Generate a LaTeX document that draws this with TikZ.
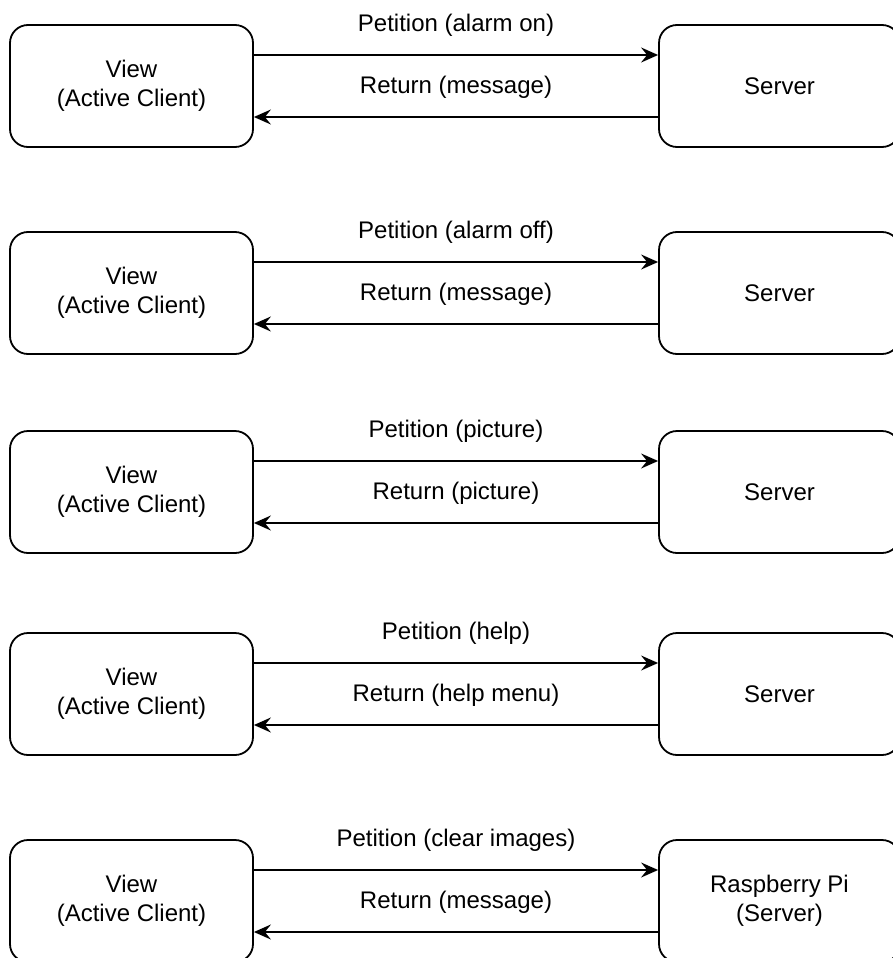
\documentclass[tikz,border=0pt]{standalone}
\usepackage{fontspec}
\setmainfont{Liberation Sans}
\usetikzlibrary{arrows.meta}
\begin{document}
\begin{tikzpicture}[x=1pt,y=-1pt,
  box/.style={draw, line width=1.8pt, rounded corners=18pt, minimum width=243pt,
    minimum height=122pt, align=center, inner sep=0pt,
    font=\fontsize{24}{29}\selectfont},
  msg/.style={-{Stealth[length=17pt,width=15pt,inset=6pt]}, line width=1.8pt},
  lbl/.style={midway, yshift=30pt, font=\fontsize{24}{29}\selectfont}]
\useasboundingbox (0,0) rectangle (893,958);
\clip (0,0) rectangle (893,958);
\foreach \i/\top/\req/\ans/\srv in {
  1/25/{Petition (alarm on)}/{Return (message)}/{Server},
  2/232/{Petition (alarm off)}/{Return (message)}/{Server},
  3/431/{Petition (picture)}/{Return (picture)}/{Server},
  4/633/{Petition (help)}/{Return (help menu)}/{Server},
  5/840/{Petition (clear images)}/{Return (message)}/{Raspberry Pi\\(Server)}} {
  \node[box] (c\i) at (131.5,\top+61) {View\\(Active Client)};
  \node[box, minimum width=241pt] (s\i) at (779.5,\top+61) {\srv};
  \draw[msg] ([yshift=31pt]c\i.east) -- node[lbl] {\req} ([yshift=31pt]s\i.west);
  \draw[msg] ([yshift=-31pt]s\i.west) -- node[lbl] {\ans} ([yshift=-31pt]c\i.east);
}
\end{tikzpicture}
\end{document}
